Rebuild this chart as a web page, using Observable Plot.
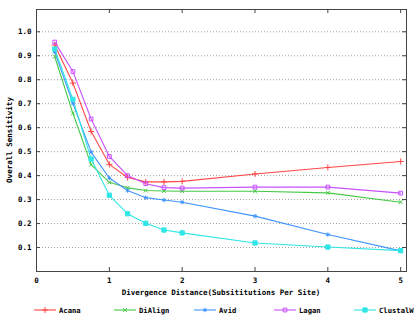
<!DOCTYPE html>
<html>
<head>
<meta charset="utf-8">
<script src="https://cdn.jsdelivr.net/npm/d3@7"></script>
<script src="https://cdn.jsdelivr.net/npm/@observablehq/plot@0.6"></script>
<style>
  html, body { margin: 0; padding: 0; background: #fff; }
  #wrap { position: relative; width: 420px; height: 315px; overflow: hidden; font-family: "DejaVu Sans Mono", monospace; font-weight: bold; font-size: 7.5px; color: #000; }
  #wrap svg { display: block; }
  .lbl { position: absolute; white-space: nowrap; }
  .leg { position: absolute; top: 304px; height: 12px; display: flex; align-items: center; font-size: 7.2px; }
</style>
</head>
<body>
<div id="wrap"></div>
<script>
// ---- data ----
const distances = [0.25, 0.5, 0.75, 1, 1.25, 1.5, 1.75, 2, 3, 4, 5];
const seriesNames = ["Acana", "DiAlign", "Avid", "Lagan", "ClustalW"];
const acana    = [0.945, 0.786, 0.584, 0.447, 0.392, 0.374, 0.374, 0.376, 0.407, 0.434, 0.459];
const dialign  = [0.897, 0.660, 0.446, 0.372, 0.349, 0.338, 0.336, 0.335, 0.335, 0.328, 0.289];
const avid     = [0.916, 0.702, 0.498, 0.390, 0.338, 0.308, 0.298, 0.289, 0.231, 0.154, 0.086];
const lagan    = [0.957, 0.834, 0.636, 0.480, 0.400, 0.366, 0.350, 0.348, 0.352, 0.352, 0.327];
const clustalw = [0.928, 0.718, 0.469, 0.318, 0.241, 0.201, 0.173, 0.161, 0.119, 0.102, 0.087];
const xTicks = [0, 1, 2, 3, 4, 5];
const yTicks = [0.1, 0.2, 0.3, 0.4, 0.5, 0.6, 0.7, 0.8, 0.9, 1.0];
const xLabel = "Divergence Distance(Subsititutions Per Site)";
const yLabel = "Overall Sensitivity";

// ---- styles ----
const colors  = ["#ff4646", "#45c845", "#4094ff", "#c850ff", "#30e6e6"];
const symbols = ["plus", "times", "asterisk", "square2", "square"];
const filled  = [false, false, false, false, true];
const radii   = [2.1, 1.9, 2.1, 2.4, 2.4];

const values = [acana, dialign, avid, lagan, clustalw];
const rows = [];
seriesNames.forEach((s, i) => distances.forEach((x, j) => rows.push({series: s, x, y: values[i][j]})));

const W = 420, H = 315;
const mL = 36, mR = 14, mT = 9, mB = 44;
const xDom = [0, 5.08], yDom = [0, 1.093];
const tickPx = 4;
const tx = tickPx * (xDom[1] - xDom[0]) / (W - mL - mR);
const ty = tickPx * (yDom[1] - yDom[0]) / (H - mT - mB);

const dotMarks = seriesNames.map((s, i) => Plot.dot(rows.filter(d => d.series === s), {
  x: "x", y: "y", symbol: () => symbols[i], r: radii[i],
  fill: filled[i] ? colors[i] : "none",
  stroke: colors[i], strokeWidth: 1
}));

const chart = Plot.plot({
  width: W, height: H,
  marginLeft: mL, marginRight: mR, marginTop: mT, marginBottom: mB,
  style: {fontFamily: "DejaVu Sans Mono, monospace", fontSize: "7.5px", fontWeight: "bold", color: "#000", background: "#fff"},
  x: {domain: xDom},
  y: {domain: yDom},
  symbol: {type: "identity"},
  color: {domain: seriesNames, range: colors},
  marks: [
    Plot.gridY(yTicks, {stroke: "#a0a0a0", strokeOpacity: 1, strokeDasharray: "1,2"}),
    Plot.axisX(xTicks, {tickSize: 0, tickPadding: 6, label: null, tickFormat: d => String(d)}),
    Plot.axisY(yTicks, {tickSize: 0, tickPadding: 5, label: null, tickFormat: d3.format(".1f")}),
    Plot.ruleX(xTicks.filter(d => d > 0), {x: d => d, y1: yDom[0], y2: yDom[0] + ty, stroke: "#444"}),
    Plot.ruleX(xTicks.filter(d => d > 0), {x: d => d, y1: yDom[1] - ty, y2: yDom[1], stroke: "#444"}),
    Plot.ruleY(yTicks, {y: d => d, x1: xDom[0], x2: xDom[0] + tx, stroke: "#444"}),
    Plot.ruleY(yTicks, {y: d => d, x1: xDom[1] - tx, x2: xDom[1], stroke: "#444"}),
    Plot.line(rows, {x: "x", y: "y", z: "series", stroke: "series", strokeWidth: 1.1}),
    ...dotMarks,
    Plot.frame({stroke: "#444", strokeWidth: 1})
  ]
});

const wrap = document.getElementById("wrap");
wrap.appendChild(chart);

// x axis label
const xl = document.createElement("div");
xl.className = "lbl";
xl.textContent = xLabel;
xl.style.left = (mL + (W - mL - mR) / 2) + "px";
xl.style.top = "288px";
xl.style.transform = "translateX(-50%)";
wrap.appendChild(xl);

// y axis label
const yl = document.createElement("div");
yl.className = "lbl";
yl.textContent = yLabel;
yl.style.left = "9px";
yl.style.top = (mT + (H - mT - mB) / 2) + "px";
yl.style.transform = "translate(-50%, -50%) rotate(-90deg)";
wrap.appendChild(yl);

// legend
const symMap = {plus: d3.symbolPlus, times: d3.symbolTimes, asterisk: d3.symbolAsterisk, square2: d3.symbolSquare2, square: d3.symbolSquare};
seriesNames.forEach((s, i) => {
  const item = document.createElement("div");
  item.className = "leg";
  item.style.left = (34 + i * 80) + "px";
  const svg = d3.create("svg").attr("width", 23).attr("height", 12);
  svg.append("line").attr("x1", 0).attr("x2", 22).attr("y1", 6).attr("y2", 6).attr("stroke", colors[i]).attr("stroke-width", 1.1);
  svg.append("path").attr("transform", "translate(11,6)")
    .attr("d", d3.symbol(symMap[symbols[i]], radii[i] * radii[i] * Math.PI)())
    .attr("fill", filled[i] ? colors[i] : "none")
    .attr("stroke", colors[i]).attr("stroke-width", 1);
  item.appendChild(svg.node());
  const t = document.createElement("span");
  t.textContent = s;
  t.style.marginLeft = "2px";
  item.appendChild(t);
  wrap.appendChild(item);
});
</script>
</body>
</html>
